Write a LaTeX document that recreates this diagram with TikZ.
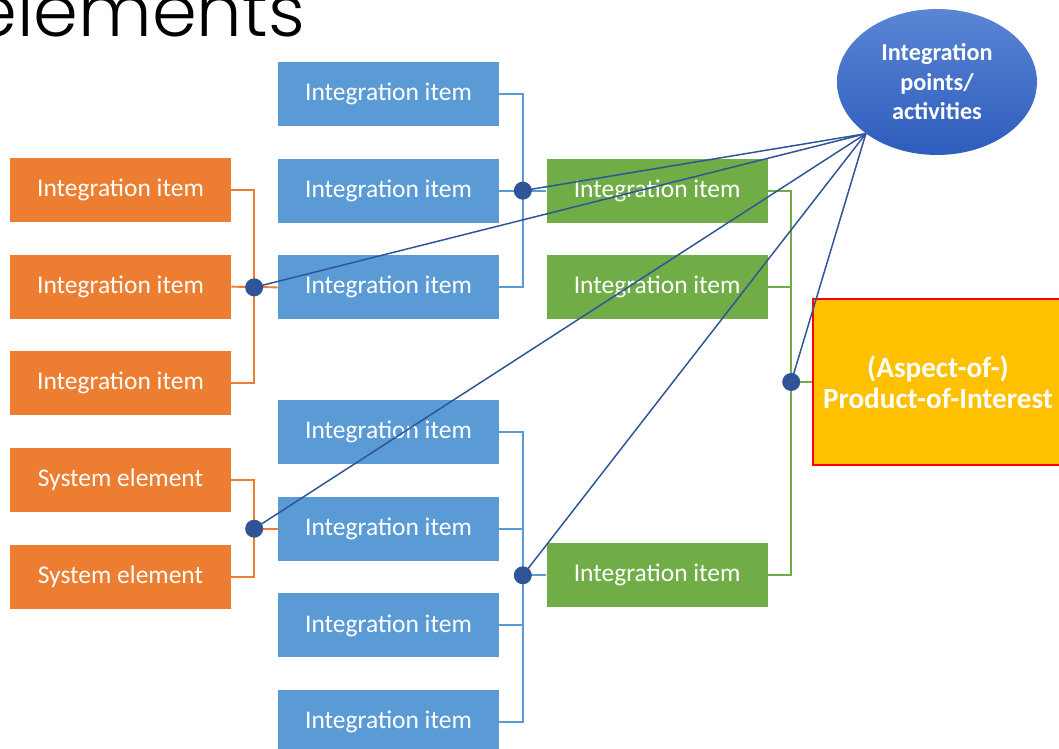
\documentclass[tikz,border=0pt]{standalone}
\usepackage{fontspec}
\setmainfont{Carlito}
\newfontfamily\titlefont{Poppins}[UprightFont=* Light]
\usepackage{xcolor}
\usepackage{tikz}
\usetikzlibrary{positioning, shapes.geometric, calc}

\definecolor{orangeitem}{HTML}{ED7D31}
\definecolor{blueitem}{HTML}{5B9BD5}
\definecolor{greenitem}{HTML}{70AD47}
\definecolor{poiyellow}{HTML}{FFC000}
\definecolor{raycol}{HTML}{2F5597}
\definecolor{ipatop}{HTML}{5A86D4}
\definecolor{ipabot}{HTML}{2E5CBC}

\begin{document}
\begin{tikzpicture}[x=0.02cm, y=-0.02cm,
  item/.style={rectangle, text=white, font=\fontsize{14.5}{17}\selectfont,
               minimum width=4.42cm, minimum height=1.28cm, inner sep=0pt},
  orng/.style={item, fill=orangeitem},
  blu/.style={item, fill=blueitem},
  grn/.style={item, fill=greenitem},
  link/.style={line width=1.1pt},
  ray/.style={draw=raycol, line width=0.85pt},
  joint/.style={circle, fill=raycol, inner sep=0pt, minimum size=0.36cm},
]
  \useasboundingbox (0,0) rectangle (1059,749);
  \clip (0,0) rectangle (1059,749);

  \node[anchor=base east, font=\titlefont\fontsize{41}{44}\selectfont] (ttl)
        at (311,37) {elements};

  % left column
  \node[orng]                   (o1) at (120.5,190) {Integration item};
  \node[orng, below=0.64cm of o1] (o2) {Integration item};
  \node[orng, below=0.64cm of o2] (o3) {Integration item};
  \node[orng, below=0.64cm of o3] (s1) {System element};
  \node[orng, below=0.64cm of s1] (s2) {System element};

  % middle column
  \node[blu]                    (b1) at (388.5,94) {Integration item};
  \node[blu, below=0.64cm of b1] (b2) {Integration item};
  \node[blu, below=0.64cm of b2] (b3) {Integration item};
  \node[blu, below=1.6cm of b3]  (b4) {Integration item};
  \node[blu, below=0.64cm of b4] (b5) {Integration item};
  \node[blu, below=0.64cm of b5] (b6) {Integration item};
  \node[blu, below=0.64cm of b6] (b7) {Integration item};

  % right column
  \node[grn, right=0.94cm of b2] (g1) {Integration item};
  \node[grn, below=0.64cm of g1] (g2) {Integration item};
  \node[grn, below=6.4cm of g1]  (g3) {Integration item};

  \node[rectangle, fill=poiyellow, draw=red, line width=0.9pt, text=white,
        font=\bfseries\fontsize{16.6}{17.5}\selectfont, align=center,
        minimum width=5cm, minimum height=3.32cm] (poi) at (938,382)
        {(Aspect-of-)\\Product-of-Interest};

  \node[ellipse, top color=ipatop, bottom color=ipabot, text=white,
        font=\bfseries\fontsize{13.8}{16.8}\selectfont, align=center,
        minimum width=4cm, minimum height=2.92cm, inner sep=0pt] (ipa)
        at (937,82) {Integration\\points/\\activities};

  % brackets
  \coordinate (oj)  at ($(b3.west)+(-23.5,0)$);
  \coordinate (sj)  at ($(b5.west)+(-23.5,0)$);
  \coordinate (bj1) at ($(g1.west)+(-23.5,0)$);
  \coordinate (bj2) at ($(g3.west)+(-23.5,0)$);
  \coordinate (gj)  at ($(poi.west)+(-21,0)$);

  \draw[link, orangeitem] (o1.east) -| (oj) |- (o3.east);
  \draw[link, orangeitem] (o2.east) -- (b3.west);
  \draw[link, orangeitem] (s1.east) -| (sj) |- (s2.east);
  \draw[link, orangeitem] (sj) -- (b5.west);

  \draw[link, blueitem] (b1.east) -| (bj1) |- (b3.east);
  \draw[link, blueitem] (b2.east) -- (g1.west);
  \draw[link, blueitem] (b4.east) -| (bj2) |- (b7.east);
  \draw[link, blueitem] (b5.east) -- (b5.east -| bj2);
  \draw[link, blueitem] (b6.east) -- (b6.east -| bj2);
  \draw[link, blueitem] (bj2) -- (g3.west);

  \draw[link, greenitem] (g1.east) -| (gj) |- (g3.east);
  \draw[link, greenitem] (g2.east) -- (g2.east -| gj);
  \draw[link, greenitem] (gj) -- (poi.west);

  % rays to the joints
  \foreach \j in {bj1, oj, sj, bj2, gj}
    \draw[ray] (ipa.216) -- (\j);
  \foreach \j in {bj1, oj, sj, bj2, gj}
    \node[joint] at (\j) {};
\end{tikzpicture}
\end{document}
